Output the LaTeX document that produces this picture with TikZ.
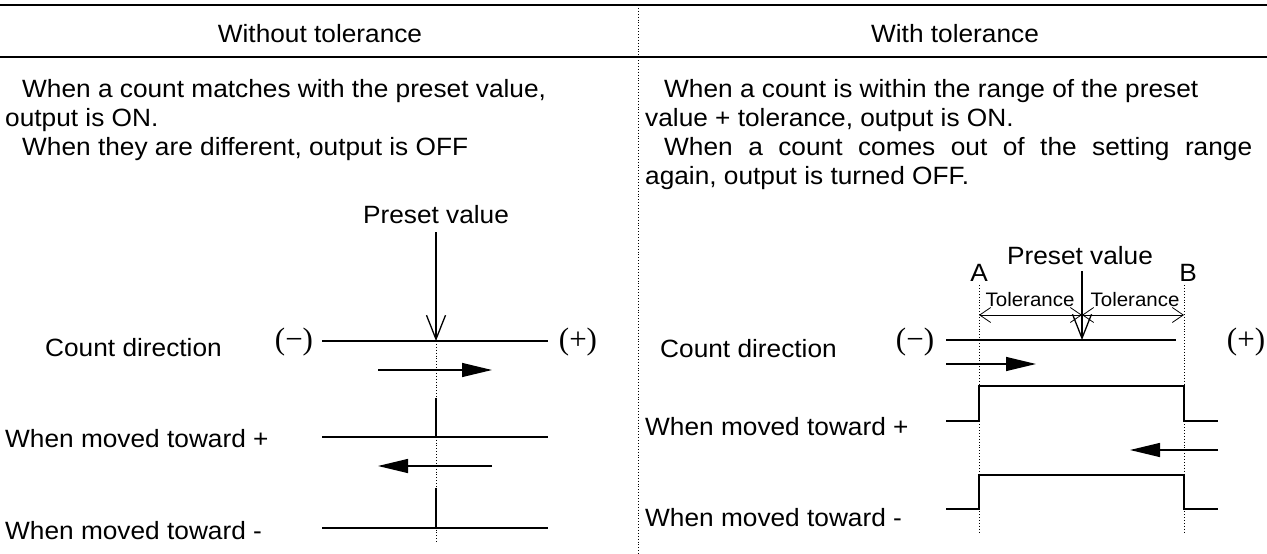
\documentclass[tikz,border=0pt]{standalone}
\usepackage{fontspec}
\setmainfont{Liberation Sans}[FakeStretch=1.05]
\newfontfamily\sgnfont{Liberation Serif}
\usetikzlibrary{arrows.meta}

\begin{document}
\begin{tikzpicture}[x=1pt,y=-1pt,
  txt/.style={font=\fontsize{25}{29}\selectfont,inner sep=0pt,anchor=base west},
  head/.style={txt,anchor=base},
  small/.style={font=\fontsize{19.5}{22}\selectfont,inner sep=0pt,anchor=base},
  sgn/.style={font=\sgnfont\fontsize{31}{34}\selectfont,inner sep=0pt},
  rule/.style={line width=1.8pt},
  lvl/.style={line width=1.7pt},
  guide/.style={dotted,line width=0.9pt},
  mv/.style={line width=1.3pt,-{Triangle[length=30pt,width=14pt]}},
  pv/.style={line width=1.3pt,-{Straight Barb[length=24pt,width=19pt]}},
  tol/.style={line width=0.8pt,{Straight Barb[length=11pt,width=15pt]}-{Straight Barb[length=11pt,width=15pt]}}
]
\useasboundingbox (0,0) rectangle (1267,554);

% table frame
\draw[rule] (0,5) -- (1267,5);
\draw[rule] (0,57) -- (1267,57);
\draw[guide] (638,5) -- (638,554);
\node[head] (hwo) at (320,42) {Without tolerance};
\node[head] (hw) at (955,42) {With tolerance};

% left column: text
\node[txt] (l1) at (22,97) {When a count matches with the preset value,};
\node[txt] (l2) at (5,126) {output is ON.};
\node[txt] (l3) at (22,155) {When they are different, output is OFF};

% left column: chart
\coordinate (pl) at (436,341);
\node[head] (pvl) at (436,223) {Preset value};
\draw[pv] ([yshift=-9pt]pvl.south) -- (pl);
\node[txt] (cdl) at (45,356) {Count direction};
\node[sgn] (mnl) at (294,342) {(−)};
\node[sgn] (pll) at (578,342) {(+)};
\draw[lvl] (322,341) -- (548,341);
\draw[mv] (378,370) -- (492,370);
\draw[guide] (pl) -- (436,542);
\node[txt] (upl) at (5,447) {When moved toward +};
\draw[lvl] (322,437) -- (548,437);
\draw[lvl] (436,398) -- (436,437);
\draw[mv] (492,466) -- (378,466);
\node[txt] (dnl) at (5,539) {When moved toward -};
\draw[lvl] (322,528) -- (548,528);
\draw[lvl] (436,488) -- (436,528);

% right column: text
\node[txt] (r1) at (664,97) {When a count is within the range of the preset};
\node[txt] (r2) at (645,126) {value + tolerance, output is ON.};
\node[txt] (r3) at (664,155) {\makebox[588pt][s]{When a count comes out of the setting range}};
\node[txt] (r4) at (645,184) {again, output is turned OFF.};

% right column: chart
\coordinate (ca) at (979,315);
\coordinate (cc) at (1082,315);
\coordinate (cb) at (1184,315);
\node[head] (pvr) at (1080,264) {Preset value};
\node[head] (la) at (979,281) {A};
\node[head] (lb) at (1188,281) {B};
\draw[guide] (979,285) -- (979,534);
\draw[guide] (1184,285) -- (1184,534);
\node[small] (ta) at (1030,306) {Tolerance};
\node[small] (tb) at (1135,306) {Tolerance};
\draw[tol] (ca) -- (cc);
\draw[tol] (cc) -- (cb);
\draw[pv] ([yshift=-7pt]pvr.south -| cc) -- (1082,340);
\node[txt] (cdr) at (660,357) {Count direction};
\node[sgn] (mnr) at (915,342) {(−)};
\node[sgn] (plr) at (1246,342) {(+)};
\draw[lvl] (946,340) -- (1176,340);
\draw[mv] (946,364) -- (1036,364);
\node[txt] (upr) at (645,435) {When moved toward +};
\draw[lvl] (946,421) -- (979,421) -- (979,386) -- (1184,386) -- (1184,421) -- (1218,421);
\draw[mv] (1218,450) -- (1130,450);
\node[txt] (dnr) at (645,526) {When moved toward -};
\draw[lvl] (946,509) -- (979,509) -- (979,475) -- (1184,475) -- (1184,509) -- (1218,509);
\end{tikzpicture}
\end{document}
